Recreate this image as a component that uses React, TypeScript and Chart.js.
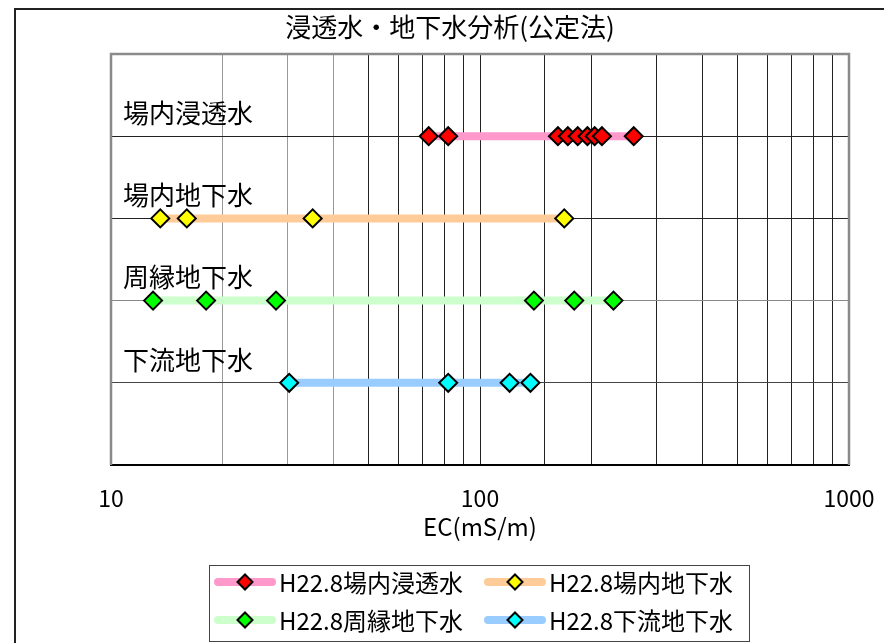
import React, { useEffect, useRef } from 'react';
import { Chart, registerables } from 'chart.js';

Chart.register(...registerables);

const FONT = "'Noto Sans CJK JP', 'Noto Sans', sans-serif";

// ---- data ----
const titleText = '浸透水・地下水分析(公定法)';
const axisTitle = 'EC(mS/m)';
// row labels for y = 1..4 (bottom to top)
const rowLabels = ['下流地下水', '周縁地下水', '場内地下水', '場内浸透水'];
const seriesNames = ['H22.8場内浸透水', 'H22.8場内地下水', 'H22.8周縁地下水', 'H22.8下流地下水'];
const seriesRows = [4, 3, 2, 1];
const seepageInside = [72.6, 82, 162.6, 173, 184, 195.5, 204.5, 214, 261];
const groundInside = [13.6, 16.05, 35.2, 169.2];
const groundPerimeter = [13.0, 18.1, 28.0, 140, 180, 230];
const groundDownstream = [30.4, 82, 120.3, 137];
const tickLabels = [10, 100, 1000];
const lineColors = ['#FF99CC', '#FFCC99', '#CCFFCC', '#99CCFF'];
const pointColors = ['#FF0000', '#FFFF00', '#00FF00', '#00FFFF'];

const seriesValues = [seepageInside, groundInside, groundPerimeter, groundDownstream];

const framePlugin = {
  id: 'frame',
  beforeDatasetsDraw(chart: any) {
    const { ctx, chartArea } = chart;
    const y = chart.scales.y;
    ctx.save();
    ctx.fillStyle = '#000';
    ctx.font = `26px ${FONT}`;
    ctx.textAlign = 'left';
    ctx.textBaseline = 'middle';
    rowLabels.forEach((lab, i) => {
      ctx.fillText(lab, chartArea.left + 12, y.getPixelForValue(i + 1) - 23);
    });
    ctx.restore();
  },
  afterDraw(chart: any) {
    const { ctx, chartArea } = chart;
    ctx.save();
    // plot border (top/left/right grey)
    ctx.strokeStyle = '#8a8a8a';
    ctx.lineWidth = 2.5;
    ctx.beginPath();
    ctx.moveTo(chartArea.left, chartArea.bottom);
    ctx.lineTo(chartArea.left, chartArea.top);
    ctx.lineTo(chartArea.right, chartArea.top);
    ctx.lineTo(chartArea.right, chartArea.bottom);
    ctx.stroke();
    // outer chart border
    ctx.strokeStyle = '#222';
    ctx.lineWidth = 2;
    ctx.strokeRect(15, 9, 1000, 1000);
    // legend
    ctx.strokeStyle = '#444';
    ctx.lineWidth = 1;
    ctx.strokeRect(209.5, 565.5, 540, 76);
    chart.data.datasets.forEach((ds: any, i: number) => {
      const col = i % 2;
      const row = Math.floor(i / 2);
      const x0 = col === 0 ? 214 : 484;
      const yy = row === 0 ? 582 : 620;
      ctx.strokeStyle = ds.borderColor;
      ctx.lineWidth = 8;
      ctx.lineCap = 'round';
      ctx.beginPath();
      ctx.moveTo(x0 + 4, yy);
      ctx.lineTo(x0 + 58, yy);
      ctx.stroke();
      const cx = x0 + 31;
      const r = 7.5;
      ctx.beginPath();
      ctx.moveTo(cx - r, yy);
      ctx.lineTo(cx, yy - r);
      ctx.lineTo(cx + r, yy);
      ctx.lineTo(cx, yy + r);
      ctx.closePath();
      ctx.fillStyle = ds.pointBackgroundColor;
      ctx.fill();
      ctx.lineWidth = 2;
      ctx.lineCap = 'butt';
      ctx.strokeStyle = '#000';
      ctx.stroke();
      ctx.fillStyle = '#000';
      ctx.font = `24px ${FONT}`;
      ctx.textAlign = 'left';
      ctx.textBaseline = 'middle';
      ctx.fillText(ds.label, x0 + 65, yy + 1);
    });
    ctx.restore();
  },
};

export default function App() {
  const ref = useRef<HTMLCanvasElement | null>(null);
  useEffect(() => {
    if (!ref.current) return;
    const datasets = seriesValues.map((vals, i) => ({
      label: seriesNames[i],
      data: vals.map((v) => ({ x: v, y: seriesRows[i] })),
      borderColor: lineColors[i],
      backgroundColor: pointColors[i],
      borderWidth: 8,
      showLine: true,
      tension: 0,
      pointStyle: 'rectRot',
      pointRadius: 9,
      pointBorderWidth: 2,
      pointBorderColor: '#000',
      pointBackgroundColor: pointColors[i],
      clip: false,
    }));
    const chart = new Chart(ref.current, {
      type: 'line',
      data: { datasets } as any,
      options: {
        responsive: false,
        animation: false,
        devicePixelRatio: 1,
        layout: { padding: { left: 16, right: 0, top: 0, bottom: 102.2 } },
        plugins: {
          legend: { display: false },
          tooltip: { enabled: false },
          title: {
            display: true,
            text: titleText,
            color: '#000',
            font: { family: FONT, size: 26, weight: 'normal' },
            padding: { top: 11.4, bottom: 11.4 },
          },
        },
        scales: {
          x: {
            type: 'logarithmic',
            min: 10,
            max: 1000,
            afterFit: (s: any) => {
              s.height = 75.8;
            },
            border: { display: true, color: '#000', width: 2 },
            grid: {
              drawTicks: true,
              tickLength: 19.2,
              tickColor: 'rgba(0,0,0,0)',
              lineWidth: 1,
              color: (c: any) => {
                const v = Math.round(c.tick ? c.tick.value : 0);
                if (v === 10 || v === 1000) return 'rgba(0,0,0,0)';
                if (v === 20 || v === 30 || v === 40) return '#999';
                return '#222';
              },
            },
            ticks: {
              autoSkip: false,
              maxRotation: 0,
              padding: 0,
              color: '#000',
              font: { family: FONT, size: 23 },
              callback: (value: any) => {
                const v = Math.round(Number(value));
                return tickLabels.includes(v) ? String(v) : '';
              },
            },
            title: {
              display: true,
              text: axisTitle,
              color: '#000',
              font: { family: FONT, size: 24 },
              padding: { top: 0, bottom: 0 },
            },
          },
          y: {
            type: 'linear',
            min: 0,
            max: 5,
            afterFit: (s: any) => {
              s.width = 95;
            },
            border: { display: false },
            grid: {
              drawTicks: false,
              lineWidth: 1,
              color: (c: any) => {
                const v = c.tick ? c.tick.value : 0;
                if (v === 1) return '#444';
                if (v === 2) return '#888';
                if (v === 3 || v === 4) return '#222';
                return 'rgba(0,0,0,0)';
              },
            },
            ticks: { display: false, stepSize: 1 },
          },
          y2: {
            type: 'linear',
            position: 'right',
            min: 0,
            max: 5,
            afterFit: (s: any) => {
              s.width = 35;
            },
            border: { display: false },
            grid: { display: false, drawTicks: false },
            ticks: { display: false },
          },
        },
      } as any,
      plugins: [framePlugin],
    });
    return () => chart.destroy();
  }, []);
  return (
    <div style={{ position: 'absolute', left: 0, top: 0, width: 884, height: 643, background: '#fff' }}>
      <canvas ref={ref} width={884} height={643} style={{ width: 884, height: 643, display: 'block' }} />
    </div>
  );
}
